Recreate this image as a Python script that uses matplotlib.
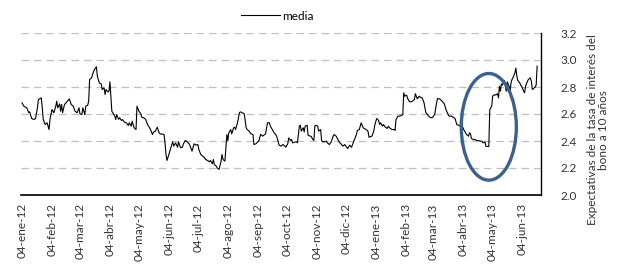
import datetime as dt
import matplotlib
matplotlib.use("Agg")
import matplotlib.pyplot as plt
import matplotlib.dates as mdates
from matplotlib.patches import Ellipse

plt.rcParams['font.family'] = ['Lato', 'DejaVu Sans']

start_date = dt.date(2012, 1, 4)
# days since 2012-01-04
day_offsets = [
    0, 2, 4, 5, 7, 8, 10, 12, 14, 16, 17, 20, 21, 22, 24, 26, 28, 29, 31, 33, 35, 36, 37, 39, 40, 41, 42,
    44, 47, 49, 51, 53, 55, 57, 59, 60, 62, 63, 65, 66, 68, 69, 70, 72, 73, 75, 77, 78, 80, 82, 83, 85,
    86, 87, 89, 90, 91, 93, 94, 96, 97, 98, 100, 101, 103, 104, 106, 108, 110, 111, 113, 114, 116, 118,
    119, 121, 123, 124, 126, 128, 130, 131, 133, 135, 136, 138, 140, 142, 143, 145, 147, 148, 149, 150,
    152, 154, 156, 157, 159, 161, 162, 164, 166, 167, 169, 171, 173, 174, 176, 178, 180, 182, 183, 185,
    187, 189, 190, 192, 194, 195, 197, 198, 199, 201, 202, 204, 206, 207, 208, 210, 212, 213, 214, 216,
    217, 219, 220, 221, 223, 225, 226, 228, 230, 232, 233, 235, 237, 239, 240, 242, 244, 245, 247, 249,
    251, 252, 254, 256, 257, 259, 261, 263, 264, 266, 268, 270, 272, 273, 275, 276, 278, 279, 280, 282,
    284, 285, 287, 288, 289, 291, 292, 293, 295, 296, 298, 299, 301, 302, 303, 304, 306, 307, 309, 310,
    311, 313, 315, 316, 318, 320, 322, 323, 325, 327, 328, 330, 332, 334, 335, 337, 339, 341, 342, 344,
    346, 347, 349, 351, 353, 354, 356, 358, 359, 362, 364, 365, 367, 369, 370, 371, 373, 374, 376, 378,
    379, 381, 383, 385, 386, 387, 389, 391, 393, 394, 395, 396, 398, 399, 401, 402, 404, 406, 407, 409,
    411, 412, 414, 416, 417, 418, 420, 422, 424, 425, 427, 429, 430, 432, 434, 436, 437, 439, 441, 442,
    444, 446, 448, 450, 452, 453, 455, 457, 458, 460, 462, 463, 464, 465, 467, 469, 470, 472, 474, 476,
    477, 479, 480, 482, 483, 484, 485, 486, 487, 489, 490, 492, 493, 494, 495, 496, 497, 499, 500, 501,
    502, 504, 505, 506, 507, 508, 510, 511, 512, 513, 515, 516, 517, 519, 520, 521, 523, 524, 526, 527,
    528, 530, 531, 532, 533,
]
media = [
    2.683, 2.658, 2.650, 2.646, 2.610, 2.616, 2.567, 2.560, 2.565, 2.646, 2.707, 2.720, 2.646, 2.560,
    2.522, 2.535, 2.485, 2.560, 2.633, 2.609, 2.658, 2.695, 2.646, 2.675, 2.621, 2.670, 2.609,
    2.670, 2.695, 2.712, 2.670, 2.658, 2.620, 2.609, 2.646, 2.601, 2.596, 2.646, 2.596, 2.658, 2.665,
    2.695, 2.856, 2.868, 2.893, 2.930, 2.950, 2.880, 2.830, 2.823, 2.781, 2.794,
    2.744, 2.781, 2.764, 2.769, 2.838, 2.620, 2.609, 2.584, 2.559, 2.596, 2.560, 2.572, 2.552, 2.559,
    2.540, 2.535, 2.515, 2.535, 2.510, 2.547, 2.498, 2.485,
    2.658, 2.620, 2.601, 2.576, 2.572, 2.560, 2.520, 2.510, 2.485, 2.448, 2.465, 2.473, 2.502, 2.460,
    2.452, 2.452, 2.448, 2.386, 2.300, 2.256,
    2.300, 2.350, 2.394, 2.362, 2.386, 2.354, 2.394, 2.350, 2.354, 2.379, 2.404, 2.394, 2.379, 2.362,
    2.325, 2.379, 2.369, 2.374, 2.337, 2.300,
    2.288, 2.275, 2.263, 2.256, 2.246, 2.256, 2.231, 2.263, 2.226, 2.214, 2.200, 2.190, 2.251, 2.300,
    2.263, 2.251, 2.448, 2.404, 2.460, 2.485,
    2.453, 2.498, 2.502, 2.485, 2.535, 2.610, 2.616, 2.609, 2.601, 2.497, 2.485, 2.473, 2.453, 2.448,
    2.374, 2.379, 2.394, 2.399, 2.450, 2.436,
    2.448, 2.453, 2.535, 2.535, 2.510, 2.485, 2.460, 2.443, 2.424, 2.370, 2.362, 2.374, 2.362, 2.354,
    2.379, 2.423, 2.404, 2.411, 2.386, 2.391,
    2.394, 2.386, 2.510, 2.517, 2.473, 2.498, 2.467, 2.510, 2.517, 2.443, 2.436, 2.436, 2.411, 2.404,
    2.510, 2.517, 2.510, 2.473, 2.485, 2.404,
    2.394, 2.394, 2.399, 2.386, 2.374, 2.394, 2.436, 2.448, 2.436, 2.411, 2.394, 2.379, 2.362, 2.374,
    2.362, 2.344, 2.369, 2.354, 2.374, 2.411,
    2.448, 2.478, 2.485, 2.535, 2.498, 2.493, 2.485, 2.473, 2.428, 2.436, 2.473, 2.517, 2.567, 2.552,
    2.522, 2.535, 2.510, 2.522, 2.502, 2.493,
    2.510, 2.493, 2.485, 2.485, 2.478, 2.559, 2.584, 2.584, 2.591, 2.596, 2.757, 2.732, 2.740, 2.715,
    2.690, 2.690, 2.695, 2.707, 2.750, 2.712,
    2.732, 2.725, 2.720, 2.683, 2.641, 2.609, 2.591, 2.576, 2.572, 2.577, 2.596, 2.683, 2.715, 2.712,
    2.700, 2.683, 2.675, 2.626, 2.596, 2.584,
    2.584, 2.577, 2.567, 2.520, 2.517, 2.510, 2.522, 2.485, 2.473, 2.448, 2.436, 2.461, 2.453, 2.419,
    2.410, 2.411, 2.404, 2.404, 2.399, 2.399,
    2.386, 2.394, 2.360, 2.360, 2.360, 2.633, 2.646, 2.658, 2.733, 2.744, 2.740, 2.750, 2.720, 2.806,
    2.769, 2.823, 2.814, 2.848, 2.814, 2.769,
    2.838, 2.806, 2.769, 2.831, 2.856, 2.868, 2.905, 2.940, 2.880, 2.848, 2.831, 2.814, 2.806, 2.770,
    2.757, 2.806, 2.843, 2.856, 2.868, 2.843,
    2.781, 2.794, 2.799, 2.814, 2.955,
]

month_abbr = ['ene', 'feb', 'mar', 'abr', 'may', 'jun', 'jul', 'ago', 'sep', 'oct', 'nov', 'dic']
tick_dates = []
y, m = 2012, 1
while (y, m) <= (2013, 6):
    tick_dates.append(dt.date(y, m, 4))
    m += 1
    if m > 12:
        m = 1
        y += 1
tick_labels = [f"04-{month_abbr[d.month - 1]}-{d.strftime('%y')}" for d in tick_dates]

dates = [start_date + dt.timedelta(days=int(o)) for o in day_offsets]

fig = plt.figure(figsize=(6.24, 2.72), dpi=100)
ax = fig.add_axes([21 / 624, 1 - 195 / 272, 520 / 624, 162 / 272])

ax.plot(dates, media, color='black', lw=0.8, label='media')

ax.set_ylim(2.0, 3.2)
ax.set_yticks([2.0, 2.2, 2.4, 2.6, 2.8, 3.0, 3.2])
ax.yaxis.set_major_formatter(matplotlib.ticker.FormatStrFormatter('%.1f'))
ax.yaxis.tick_right()
ax.tick_params(axis='y', length=0, pad=14, labelsize=8.5, colors='#333333')
for yv in [2.2, 2.4, 2.6, 2.8, 3.0, 3.2]:
    ax.axhline(yv, color='#bfbfbf', lw=0.9, dashes=(6, 4), zorder=0)

x0 = start_date - dt.timedelta(days=1)
x1 = start_date + dt.timedelta(days=537)
ax.set_xlim(x0, x1)
ax.set_xticks(tick_dates)
ax.set_xticklabels(tick_labels, rotation=90, fontsize=8.5, color='#333333')
ax.tick_params(axis='x', length=0, pad=6)

for s in ['top', 'left']:
    ax.spines[s].set_visible(False)
ax.spines['bottom'].set_linewidth(1.2)
ax.spines['right'].set_linewidth(1.0)

fig.text(598 / 624, 1 - 130 / 272, 'Expectativas de la tasa de interés del\nbono a 10 años',
         rotation=90, ha='center', va='center', fontsize=8.5, color='#333333',
         linespacing=1.1, multialignment='center')

# highlight ellipse
ell = Ellipse((mdates.date2num(dt.date(2013, 5, 1)), 2.505), width=57, height=0.79,
              fill=False, edgecolor='#3b6191', lw=2.4, zorder=5, clip_on=False)
ax.add_patch(ell)

fig.legend(loc='upper center', bbox_to_anchor=(0.445, 1.0), frameon=False, fontsize=8.5,
           handlelength=3.3, handletextpad=0.2)

fig.savefig('out.png', dpi=100)
